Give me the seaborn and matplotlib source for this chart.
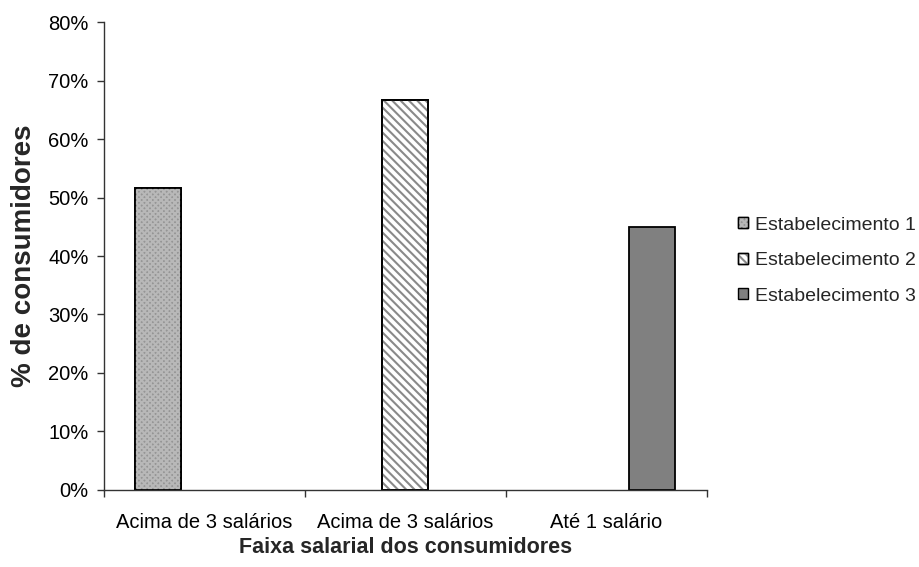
import matplotlib
matplotlib.use("Agg")
import matplotlib.pyplot as plt
from matplotlib.patches import Rectangle, Patch
from matplotlib.ticker import PercentFormatter, FixedLocator, NullFormatter
import seaborn as sns
import pandas as pd

# Salary bands (labels repeat, so each band gets its own key for plotting)
faixa_chave = ["f1", "f2", "f3"]
faixa_rotulo = ["Acima de 3 salários", "Acima de 3 salários", "Até 1 salário"]

# One bar per establishment, each in its own salary band
estabelecimentos = ["Estabelecimento 1", "Estabelecimento 2", "Estabelecimento 3"]
faixa_do_estab = ["f1", "f2", "f3"]
percentuais = [0.517, 0.667, 0.450]

yticks = [0.0, 0.1, 0.2, 0.3, 0.4, 0.5, 0.6, 0.7, 0.8]

# Fill styles per establishment: face colour, hatch pattern, hatch colour
estilos = {
    "Estabelecimento 1": dict(face="#959595", hatch="xxxxxx", hcolor="#b8b8b8"),
    "Estabelecimento 2": dict(face="#ffffff", hatch="\\\\\\\\", hcolor="#8a8a8a"),
    "Estabelecimento 3": dict(face="#808080", hatch=None, hcolor=None),
}

df = pd.DataFrame({"faixa": faixa_do_estab, "estab": estabelecimentos, "pct": percentuais})

sns.set_theme(style="white")
plt.rcParams["font.family"] = ["Liberation Sans", "DejaVu Sans"]
plt.rcParams["hatch.linewidth"] = 1.5

fig = plt.figure(figsize=(9.19, 5.67), dpi=100)
ax = fig.add_axes([0.113, 0.136, 0.656, 0.825])

paleta = {k: v["face"] for k, v in estilos.items()}
sns.barplot(data=df, x="faixa", y="pct", hue="estab", order=faixa_chave,
            hue_order=estabelecimentos, palette=paleta, width=0.687, dodge=True,
            edgecolor="black", linewidth=1.3, saturation=1, legend=False, ax=ax)


def camada_hachura(xy, w, h, est, z):
    """Grey hatch layer plus black outline drawn over a filled bar."""
    return [
        Rectangle(xy, w, h, facecolor="none", edgecolor=est["hcolor"],
                  hatch=est["hatch"], linewidth=0, zorder=z + 0.1),
        Rectangle(xy, w, h, facecolor="none", edgecolor="black",
                  linewidth=1.3, zorder=z + 0.2),
    ]


for container, nome in zip(ax.containers, estabelecimentos):
    est = estilos[nome]
    for bar in container:
        if est["hatch"] and bar.get_height() > 0:
            for p in camada_hachura(bar.get_xy(), bar.get_width(), bar.get_height(),
                                    est, bar.get_zorder()):
                ax.add_patch(p)

ax.set_xlim(-0.5, len(faixa_chave) - 0.5)
ax.set_ylim(0, 0.8)
ax.set_yticks(yticks)
ax.yaxis.set_major_formatter(PercentFormatter(1.0, decimals=0))

ax.set_xticks(range(len(faixa_chave)))
ax.set_xticklabels(faixa_rotulo)
ax.tick_params(axis="x", which="major", length=0, pad=17, labelsize=14.5, colors="black")
ax.xaxis.set_minor_locator(FixedLocator([i - 0.5 for i in range(len(faixa_chave) + 1)]))
ax.xaxis.set_minor_formatter(NullFormatter())
ax.tick_params(axis="x", which="minor", bottom=True, direction="out", length=5, width=1, color="#333333")
ax.tick_params(axis="y", which="major", left=True, direction="out", length=5, width=1,
               color="#333333", labelsize=14.5, labelcolor="black", pad=6)

for s in ["top", "right"]:
    ax.spines[s].set_visible(False)
for s in ["left", "bottom"]:
    ax.spines[s].set_color("#333333")
    ax.spines[s].set_linewidth(1)

ax.set_xlabel("Faixa salarial dos consumidores", fontsize=15.5, fontweight="bold", labelpad=3)
ax.set_ylabel("% de consumidores", fontsize=20, fontweight="bold", labelpad=8)

# Legend keys built from the same layers as the bars
handles = []
for nome in estabelecimentos:
    est = estilos[nome]
    base = Patch(facecolor=est["face"], edgecolor="black", linewidth=1)
    if est["hatch"]:
        h = (base,
             Patch(facecolor="none", edgecolor=est["hcolor"], hatch=est["hatch"], linewidth=0),
             Patch(facecolor="none", edgecolor="black", linewidth=1))
    else:
        h = base
    handles.append(h)
fig.legend(handles=handles, labels=estabelecimentos, loc="center left",
           bbox_to_anchor=(0.803, 0.540), frameon=False, fontsize=14,
           handlelength=0.5, handleheight=0.5, handletextpad=0.4,
           labelspacing=0.95, borderaxespad=0, borderpad=0)

fig.savefig("out.png", dpi=100)
